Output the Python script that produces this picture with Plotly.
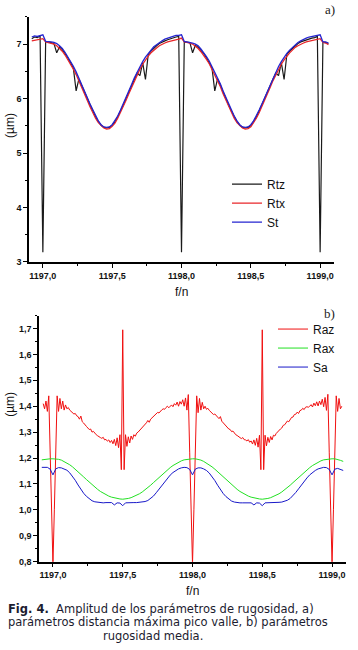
import plotly.graph_objects as go

# ---------------- Panel a) data ----------------
x_top = [round(1196.92 + 0.02 * i, 2) for i in range(108)]

rtx = [7.06, 7.07, 7.08, 7.09,
       7.10, 7.04, 7.03, 7.02, 7.00, 6.97, 6.92, 6.87, 6.80, 6.72,
       6.63, 6.54, 6.44, 6.33, 6.21, 6.09, 5.97, 5.85, 5.74, 5.64,
       5.56, 5.50, 5.46, 5.44, 5.45, 5.49, 5.55, 5.64, 5.74, 5.85,
       5.97, 6.09, 6.21, 6.33, 6.44, 6.54, 6.63, 6.71, 6.78, 6.84,
       6.89, 6.93, 6.97, 7.00, 7.02, 7.04, 7.05, 7.07, 7.08, 7.09,
       7.11, 7.04, 7.03, 7.02, 7.00, 6.96, 6.92, 6.86, 6.80, 6.72,
       6.64, 6.54, 6.44, 6.33, 6.22, 6.09, 5.97, 5.86, 5.74, 5.64,
       5.56, 5.50, 5.46, 5.44, 5.45, 5.48, 5.55, 5.64, 5.74, 5.85,
       5.97, 6.09, 6.21, 6.33, 6.44, 6.54, 6.63, 6.71, 6.78, 6.84,
       6.89, 6.94, 6.97, 7.00, 7.02, 7.04, 7.05, 7.06, 7.08, 7.09,
       7.10, 7.03, 7.02, 6.99]

st = [7.13, 7.15, 7.14, 7.16,
      7.17, 7.05, 7.05, 7.04, 7.03, 7.01, 6.97, 6.92, 6.85, 6.77,
      6.68, 6.59, 6.49, 6.38, 6.26, 6.14, 6.02, 5.90, 5.79, 5.68,
      5.59, 5.52, 5.48, 5.47, 5.48, 5.52, 5.59, 5.68, 5.79, 5.90,
      6.02, 6.14, 6.26, 6.38, 6.49, 6.59, 6.68, 6.76, 6.83, 6.89,
      6.95, 6.99, 7.03, 7.06, 7.09, 7.11, 7.13, 7.14, 7.16, 7.16,
      7.17, 7.05, 7.04, 7.04, 7.02, 7.00, 6.97, 6.91, 6.85, 6.77,
      6.69, 6.59, 6.49, 6.38, 6.27, 6.14, 6.02, 5.91, 5.79, 5.68,
      5.59, 5.52, 5.48, 5.47, 5.48, 5.52, 5.59, 5.68, 5.79, 5.90,
      6.02, 6.14, 6.26, 6.38, 6.49, 6.59, 6.68, 6.76, 6.83, 6.89,
      6.94, 6.99, 7.03, 7.06, 7.09, 7.11, 7.13, 7.14, 7.15, 7.16,
      7.17, 7.04, 7.04, 7.02]

rtz = [7.10, 7.13, 7.12, 7.15,
       3.18, 7.05, 7.04, 7.03, 7.01, 6.84, 6.95, 6.90, 6.83, 6.75,
       6.66, 6.56, 6.14, 6.36, 6.24, 6.12, 6.00, 5.88, 5.77, 5.66,
       5.58, 5.51, 5.47, 5.46, 5.47, 5.51, 5.57, 5.66, 5.77, 5.88,
       6.00, 6.12, 6.24, 6.36, 6.47, 6.42, 6.66, 6.35, 6.81, 6.87,
       6.93, 6.97, 7.01, 7.04, 7.06, 7.08, 7.10, 7.11, 7.13, 7.14,
       3.18, 7.04, 7.04, 7.03, 6.84, 6.98, 6.94, 6.89, 6.83, 6.75,
       6.66, 6.56, 6.14, 6.36, 6.25, 6.12, 6.00, 5.88, 5.77, 5.66,
       5.58, 5.51, 5.47, 5.46, 5.47, 5.50, 5.57, 5.66, 5.77, 5.88,
       6.00, 6.12, 6.24, 6.36, 6.47, 6.42, 6.66, 6.35, 6.81, 6.87,
       6.92, 6.97, 7.01, 7.04, 7.06, 7.08, 7.10, 7.11, 7.12, 7.14,
       3.18, 7.04, 7.03, 7.01]

# ---------------- Panel b) data ----------------
x_raz = [round(1196.93 + 0.01 * i, 2) for i in range(215)]

raz = [1.41, 1.39, 1.42, 1.38, 1.44, 1.22, 1.00,
       # period 1
       0.79, 1.00, 1.22, 1.44, 1.38, 1.43, 1.39, 1.42, 1.385, 1.405,
       1.39, 1.395, 1.385, 1.38, 1.375, 1.37, 1.372, 1.363, 1.36, 1.35,
       1.362, 1.34, 1.335, 1.33, 1.322, 1.316, 1.31, 1.312, 1.30, 1.303,
       1.294, 1.29, 1.286, 1.284, 1.279, 1.276, 1.28, 1.27, 1.272, 1.265,
       1.27, 1.26, 1.268, 1.255, 1.272, 1.248, 1.278, 1.24, 1.29, 1.155,
       1.695, 1.155, 1.29, 1.245, 1.282, 1.258, 1.285, 1.272, 1.29, 1.284,
       1.296, 1.30, 1.306, 1.31, 1.318, 1.325, 1.33, 1.336, 1.345, 1.338,
       1.35, 1.356, 1.36, 1.366, 1.37, 1.376, 1.374, 1.382, 1.386, 1.39,
       1.388, 1.395, 1.40, 1.394, 1.402, 1.405, 1.398, 1.41, 1.404, 1.416,
       1.40, 1.418, 1.408, 1.425, 1.40, 1.432, 1.385, 1.445, 1.22, 1.00,
       # period 2
       0.79, 1.00, 1.22, 1.44, 1.375, 1.43, 1.385, 1.415, 1.39, 1.40,
       1.388, 1.392, 1.384, 1.378, 1.376, 1.368, 1.37, 1.362, 1.358, 1.352,
       1.36, 1.342, 1.336, 1.328, 1.324, 1.315, 1.312, 1.31, 1.302, 1.304,
       1.295, 1.29, 1.287, 1.283, 1.28, 1.275, 1.279, 1.271, 1.27, 1.266,
       1.271, 1.261, 1.266, 1.254, 1.27, 1.249, 1.276, 1.242, 1.288, 1.155,
       1.695, 1.155, 1.288, 1.247, 1.28, 1.26, 1.283, 1.27, 1.288, 1.285,
       1.295, 1.302, 1.305, 1.312, 1.316, 1.326, 1.328, 1.337, 1.343, 1.34,
       1.349, 1.357, 1.358, 1.368, 1.369, 1.377, 1.372, 1.383, 1.385, 1.392,
       1.387, 1.396, 1.398, 1.396, 1.40, 1.406, 1.397, 1.412, 1.402, 1.417,
       1.401, 1.42, 1.406, 1.427, 1.398, 1.434, 1.384, 1.446, 1.22, 1.00,
       # end
       0.79, 1.00, 1.22, 1.44, 1.38, 1.43, 1.39, 1.40]

x_ra = [round(1196.92 + 0.02 * i, 2) for i in range(109)]

rax = [1.193, 1.195, 1.196, 1.197,
       1.197, 1.197, 1.195, 1.192, 1.187, 1.181, 1.174, 1.166, 1.157, 1.147,
       1.137, 1.127, 1.117, 1.107, 1.097, 1.088, 1.079, 1.071, 1.064, 1.058,
       1.053, 1.049, 1.046, 1.043, 1.042, 1.041, 1.042, 1.044, 1.047, 1.051,
       1.056, 1.062, 1.069, 1.077, 1.086, 1.095, 1.105, 1.115, 1.125, 1.135,
       1.145, 1.154, 1.163, 1.171, 1.178, 1.184, 1.189, 1.193, 1.195, 1.196,
       1.197, 1.197, 1.195, 1.192, 1.187, 1.181, 1.174, 1.166, 1.157, 1.147,
       1.137, 1.127, 1.117, 1.107, 1.097, 1.088, 1.079, 1.071, 1.064, 1.058,
       1.053, 1.049, 1.046, 1.043, 1.042, 1.041, 1.042, 1.044, 1.047, 1.051,
       1.056, 1.062, 1.069, 1.077, 1.086, 1.095, 1.105, 1.115, 1.125, 1.135,
       1.145, 1.154, 1.163, 1.171, 1.178, 1.184, 1.189, 1.193, 1.195, 1.196,
       1.197, 1.197, 1.195, 1.191, 1.187]

sa = [1.164, 1.165, 1.164, 1.157,
      1.135, 1.158, 1.163, 1.162, 1.159, 1.153, 1.143, 1.130, 1.114, 1.096,
      1.079, 1.064, 1.052, 1.042, 1.035, 1.031, 1.029, 1.028, 1.027, 1.028,
      1.027, 1.028, 1.019, 1.027, 1.026, 1.016, 1.027, 1.028, 1.027, 1.028,
      1.028, 1.029, 1.030, 1.032, 1.036, 1.043, 1.053, 1.066, 1.080, 1.095,
      1.109, 1.122, 1.134, 1.144, 1.152, 1.158, 1.162, 1.164, 1.163, 1.156,
      1.135, 1.157, 1.162, 1.162, 1.158, 1.152, 1.142, 1.129, 1.113, 1.095,
      1.078, 1.063, 1.051, 1.041, 1.034, 1.030, 1.028, 1.027, 1.027, 1.027,
      1.026, 1.027, 1.019, 1.027, 1.026, 1.016, 1.027, 1.027, 1.027, 1.028,
      1.028, 1.029, 1.030, 1.033, 1.037, 1.044, 1.054, 1.067, 1.081, 1.096,
      1.110, 1.123, 1.135, 1.145, 1.152, 1.158, 1.162, 1.164, 1.163, 1.156,
      1.135, 1.157, 1.160, 1.156, 1.152]

x_ticks = [1197.0, 1197.5, 1198.0, 1198.5, 1199.0]

W, H = 358, 650
def px(x):
    return x / W
def py(y):
    return 1 - y / H

SANS = "Arial, 'Liberation Sans', sans-serif"

fig = go.Figure()

fig.add_trace(go.Scatter(x=x_top, y=rtz, mode="lines", name="Rtz",
                         line=dict(color="#1a1a1a", width=1.2),
                         xaxis="x", yaxis="y", legend="legend"))
fig.add_trace(go.Scatter(x=x_top, y=rtx, mode="lines", name="Rtx",
                         line=dict(color="#e8262a", width=1.3),
                         xaxis="x", yaxis="y", legend="legend"))
fig.add_trace(go.Scatter(x=x_top, y=st, mode="lines", name="St",
                         line=dict(color="#2525d0", width=1.3),
                         xaxis="x", yaxis="y", legend="legend"))

fig.add_trace(go.Scatter(x=x_raz, y=raz, mode="lines", name="Raz",
                         line=dict(color="#f01010", width=1),
                         xaxis="x2", yaxis="y2", legend="legend2"))
fig.add_trace(go.Scatter(x=x_ra, y=rax, mode="lines", name="Rax",
                         line=dict(color="#22e022", width=1),
                         xaxis="x2", yaxis="y2", legend="legend2"))
fig.add_trace(go.Scatter(x=x_ra, y=sa, mode="lines", name="Sa",
                         line=dict(color="#1818c8", width=1),
                         xaxis="x2", yaxis="y2", legend="legend2"))

tickfont = dict(family=SANS, size=9, color="#111", weight="bold")
axis_common = dict(showline=True, linecolor="black", linewidth=1.5,
                   ticks="outside", ticklen=4, tickwidth=1.2, tickcolor="black",
                   showgrid=False, zeroline=False, tickfont=tickfont)

fig.update_layout(
    width=W, height=H, autosize=False,
    margin=dict(l=0, r=0, t=0, b=0),
    paper_bgcolor="white", plot_bgcolor="white",
    separators=",.",
    xaxis=dict(domain=[px(29), px(334)], range=[1196.9, 1199.1], anchor="y",
               tickvals=x_ticks, tickformat=".1f",
               minor=dict(ticks="outside", dtick=0.25, tick0=1197, ticklen=2.5,
                          tickcolor="black", tickwidth=1),
               **axis_common),
    yaxis=dict(domain=[py(264), py(17)], range=[3, 7.5], anchor="x",
               dtick=1, tick0=3,
               minor=dict(ticks="outside", dtick=0.5, tick0=3, ticklen=2.5,
                          tickcolor="black", tickwidth=1),
               **axis_common),
    xaxis2=dict(domain=[px(39), px(346)], range=[1196.9, 1199.1], anchor="y2",
                tickvals=x_ticks, tickformat=".1f",
                minor=dict(ticks="outside", dtick=0.25, tick0=1197, ticklen=2.5,
                           tickcolor="black", tickwidth=1),
                **axis_common),
    yaxis2=dict(domain=[py(566), py(318)], range=[0.8, 1.75], anchor="x2",
                dtick=0.1, tick0=0.8, tickformat=".1f",
                minor=dict(ticks="outside", dtick=0.05, tick0=0.8, ticklen=2.5,
                           tickcolor="black", tickwidth=1),
                **axis_common),
    legend=dict(x=px(227), y=py(171), xanchor="left", yanchor="top",
                bgcolor="rgba(0,0,0,0)", borderwidth=0,
                font=dict(family=SANS, size=12, color="#111"),
                itemwidth=30, tracegroupgap=0),
    legend2=dict(x=px(273), y=py(317), xanchor="left", yanchor="top",
                 bgcolor="rgba(0,0,0,0)", borderwidth=0,
                 font=dict(family=SANS, size=12, color="#111"),
                 itemwidth=30, tracegroupgap=0),
    showlegend=True,
)

ann_font = dict(family=SANS, size=12, color="#111")
cap_font = dict(family="'DejaVu Sans', Verdana, sans-serif", size=11.5, color="#1c1c30")
annotations = [
    dict(text="a)", x=px(330), y=py(10), font=dict(family="'Liberation Serif', serif", size=13, color="#222")),
    dict(text="b)", x=px(329), y=py(316), font=dict(family="'Liberation Serif', serif", size=13, color="#222")),
    dict(text="(µm)", x=px(10), y=py(127), textangle=-90, font=ann_font),
    dict(text="(µm)", x=px(10), y=py(408), textangle=-90, font=ann_font),
    dict(text="f/n", x=px(181.5), y=py(294), font=ann_font),
    dict(text="f/n", x=px(192.5), y=py(596), font=ann_font),
    dict(text="<b>Fig. 4.</b>&nbsp; Amplitud de los parámetros de rugosidad, a)",
         x=px(6), y=py(614), xanchor="left", font=cap_font),
    dict(text="parámetros distancia máxima pico valle, b) parámetros",
         x=px(6), y=py(627), xanchor="left", font=cap_font),
    dict(text="rugosidad media.", x=px(101), y=py(641), xanchor="left", font=cap_font),
]
for a in annotations:
    a.setdefault("xanchor", "center")
    a.update(xref="paper", yref="paper", yanchor="middle", showarrow=False)
fig.update_layout(annotations=annotations)

fig.write_html("out.html",
               config={"displayModeBar": False},
               post_script="document.body.style.margin='0px';document.body.style.padding='0px';")
